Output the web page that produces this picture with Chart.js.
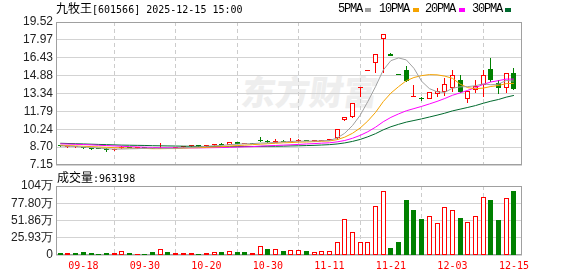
<!DOCTYPE html>
<html>
<head>
<meta charset="utf-8">
<script src="https://cdn.jsdelivr.net/npm/chart.js@4.4.1/dist/chart.umd.min.js"></script>
<style>
  html, body { margin: 0; padding: 0; background: #fff; }
  #wrap { position: relative; width: 578px; height: 276px; overflow: hidden; }
  canvas { position: absolute; left: 0; z-index: 1; }
  #cPrice { top: 0; }
  #cVol { top: 170px; }
  .t { position: absolute; white-space: nowrap; color: #000; z-index: 2; }
  .mono { font-family: "DejaVu Sans Mono", monospace; font-size: 10px; }
  .cjk { font-family: "Noto Sans CJK SC", sans-serif; font-size: 12px; }
  .leg { font-family: "Liberation Mono", monospace; font-size: 12px; letter-spacing: -1.2px; }
  .mk { position: absolute; width: 6px; height: 4px; top: 8px; z-index: 2; }
  #wm { position: absolute; left: 242px; top: 66px; z-index: 0; font-family: "Noto Sans CJK SC", sans-serif;
        font-weight: 900; font-size: 34px; color: #eeeeee; transform: skewX(-8deg); white-space: nowrap; }
</style>
</head>
<body>
<div id="wrap">
  <div id="wm">东方财富</div>
  <canvas id="cPrice" width="578" height="180"></canvas>
  <canvas id="cVol" width="578" height="106"></canvas>

  <div class="t" style="left:56px;top:1px;line-height:14px"><span class="cjk">九牧王</span><span class="mono">[601566] 2025-12-15 15:00</span></div>

  <div class="t leg" style="left:338px;top:2px;line-height:14px">5PMA</div>
  <div class="mk" style="left:365px;background:#a0a0a0"></div>
  <div class="t leg" style="left:379px;top:2px;line-height:14px">10PMA</div>
  <div class="mk" style="left:413px;background:#f5a300"></div>
  <div class="t leg" style="left:425px;top:2px;line-height:14px">20PMA</div>
  <div class="mk" style="left:459px;background:#ff00ff"></div>
  <div class="t leg" style="left:472px;top:2px;line-height:14px">30PMA</div>
  <div class="mk" style="left:505px;background:#006a2e"></div>

  <div class="t" style="left:57px;top:170px;line-height:14px"><span class="cjk">成交量</span><span class="mono">:963198</span></div>
</div>

<script>
// 交易日
const dates = ["09-15","09-16","09-17","09-18","09-19","09-22","09-23","09-24","09-25","09-26",
  "09-29","09-30","10-09","10-10","10-13","10-14","10-15","10-16","10-17","10-20",
  "10-21","10-22","10-23","10-24","10-27","10-28","10-29","10-30","10-31","11-03",
  "11-04","11-05","11-06","11-07","11-10","11-11","11-12","11-13","11-14","11-17",
  "11-18","11-19","11-20","11-21","11-24","11-25","11-26","11-27","11-28","12-01",
  "12-02","12-03","12-04","12-05","12-08","12-09","12-10","12-11","12-12","12-15"];

// K线 (开 高 低 收)
const open  = [8.80,8.70,8.70,8.68,8.60,8.58,8.56,8.44,8.58,8.66, 8.58,8.60,8.60,8.53,8.56,8.58,8.70,8.76,8.78,8.78,
               8.88,8.92,8.91,9.12,8.98,9.00,9.22,9.19,9.08,9.26, 9.18,9.20,9.30,9.20,9.25,9.28,9.46,11.08,11.30,13.78,
               15.25,15.95,18.05,16.72,14.94,15.37,13.06,12.92,12.85,13.28, 13.49,13.78,14.50,12.83,13.64,14.05,15.43,14.27,13.78,15.10];
const high  = [8.82,8.75,8.74,8.70,8.62,8.60,8.58,8.52,8.78,8.70, 8.64,8.62,8.62,9.05,8.64,8.66,8.82,8.82,8.86,8.86,
               8.95,9.02,9.14,9.14,9.04,9.03,9.58,9.31,9.40,9.28, 9.46,9.40,9.32,9.28,9.35,9.38,10.30,11.33,12.50,13.80,
               15.25,16.75,18.52,16.80,14.94,15.74,14.07,13.02,13.48,13.80, 14.65,15.37,14.94,13.52,14.50,15.37,16.38,14.50,15.10,15.55];
const low   = [8.72,8.68,8.68,8.52,8.48,8.50,8.28,8.36,8.56,8.58, 8.54,8.55,8.52,8.50,8.52,8.55,8.66,8.72,8.68,8.74,
               8.80,8.85,8.88,8.96,8.95,8.94,9.18,9.02,9.06,9.15, 9.14,9.12,9.20,9.18,9.22,9.26,9.31,10.98,11.19,13.06,
               15.25,15.13,15.10,16.58,14.94,14.30,13.02,12.72,12.83,13.03, 13.15,13.45,13.35,12.49,13.42,13.06,14.36,13.33,13.40,13.64];
const close = [8.76,8.72,8.71,8.60,8.52,8.54,8.42,8.50,8.66,8.62, 8.60,8.58,8.56,8.58,8.60,8.62,8.80,8.78,8.77,8.82,
               8.94,8.90,9.11,8.98,9.00,8.98,9.20,9.16,9.23,9.17, 9.21,9.26,9.23,9.22,9.32,9.34,10.30,11.33,12.50,13.80,
               15.25,16.75,18.50,16.60,14.94,14.41,13.12,12.88,13.46,13.55, 14.14,14.93,13.49,13.52,13.98,14.94,14.50,13.80,15.08,13.73];

// 均线
const ma5  = [8.80,8.77,8.74,8.70,8.66,8.62,8.56,8.52,8.53,8.55, 8.56,8.59,8.60,8.59,8.58,8.59,8.63,8.68,8.71,8.76,
              8.82,8.84,8.91,8.95,8.99,8.99,9.05,9.06,9.11,9.15, 9.19,9.21,9.22,9.22,9.25,9.27,9.48,9.90,10.56,11.45,
              12.64,13.93,15.36,16.18,16.41,16.24,15.51,14.39,13.76,13.48, 13.43,13.79,13.91,13.93,14.01,14.17,14.09,14.15,14.46,14.41];
const ma10 = [8.86,8.83,8.80,8.77,8.74,8.71,8.68,8.65,8.63,8.61, 8.59,8.58,8.56,8.56,8.57,8.57,8.61,8.64,8.65,8.67,
              8.71,8.74,8.79,8.83,8.87,8.91,8.95,8.99,9.03,9.07, 9.09,9.13,9.14,9.17,9.20,9.23,9.34,9.56,9.89,10.35,
              10.96,11.70,12.63,13.37,13.93,14.44,14.72,14.88,14.97,14.95, 14.84,14.65,14.15,13.84,13.75,13.80,13.94,14.03,14.19,14.21];
const ma20 = [8.98,8.96,8.94,8.92,8.89,8.86,8.83,8.80,8.77,8.74, 8.71,8.69,8.67,8.65,8.64,8.63,8.63,8.63,8.63,8.64,
              8.65,8.66,8.68,8.70,8.72,8.74,8.78,8.81,8.84,8.87, 8.90,8.93,8.97,9.00,9.04,9.07,9.15,9.27,9.46,9.71,
              10.03,10.42,10.89,11.27,11.57,11.84,12.03,12.22,12.43,12.65, 12.90,13.18,13.39,13.61,13.84,14.12,14.33,14.45,14.58,14.58];
const ma30 = [9.03,9.01,8.99,8.97,8.95,8.93,8.91,8.89,8.87,8.86, 8.85,8.84,8.82,8.81,8.80,8.79,8.78,8.77,8.76,8.75,
              8.74,8.74,8.74,8.74,8.75,8.75,8.76,8.77,8.77,8.78, 8.80,8.81,8.83,8.85,8.88,8.91,8.97,9.06,9.19,9.36,
              9.59,9.86,10.19,10.46,10.67,10.86,11.00,11.14,11.30,11.46, 11.63,11.83,11.98,12.13,12.29,12.49,12.67,12.82,13.02,13.17];

// 成交量 (万) 和涨跌方向
const volume = [3,3,3,4.5,3,1.5,3,3,5.5,3, 1.5,1.5,4.5,8.5,4.5,3,3,3,1.5,3,
                4,4.5,5.5,4.5,4.5,3,13,9,8.5,6, 7,7,6,4,5.5,5.5,19,54,34,19,
                19,73.5,96,10.5,19,83,68,54.5,58.5,48, 72,68,56,49.5,58.5,87,83,53,85.5,96.32];
const volDir = ["g","r","g","g","g","g","g","r","r","g", "r","g","g","r","g","r","r","r","g","r",
                "r","g","r","g","g","r","r","g","r","g", "r","r","g","r","r","r","r","r","r","r",
                "r","r","r","g","g","g","g","g","r","r", "r","r","g","r","r","r","g","g","r","g"];

const priceTicks = [7.15, 8.70, 10.24, 11.79, 13.34, 14.88, 16.43, 17.97, 19.52];
const volTicks = [0, 25.93, 51.86, 77.80, 104];
const dateTickIdx = [3, 11, 19, 27, 35, 43, 51, 59];

const RED = "#ff0000", GREEN = "#008000";
const X_MIN = -0.56, X_MAX = 60.05;

const isUp = close.map((c, i) => c > open[i] || (c === open[i] && c >= (i ? close[i - 1] : c)));
const candleColor = isUp.map(u => (u ? RED : GREEN));

/* 图框 */
const frame = {
  id: "frame",
  beforeDatasetsDraw(chart) {
    const { ctx, chartArea: a } = chart;
    ctx.save();
    ctx.strokeStyle = "#a0a0a0";
    ctx.lineWidth = 1;
    ctx.strokeRect(a.left + 0.5, a.top + 0.5, a.right - a.left - 1, a.bottom - a.top - 1);
    ctx.restore();
  },
};

/* 柱子对齐到整像素，避免发虚 */
const snapBars = {
  id: "snapBars",
  afterDatasetsUpdate(chart) {
    chart.getSortedVisibleDatasetMetas().forEach((meta) => {
      if (meta.type !== "bar") return;
      meta.data.forEach((el) => {
        el.x = Math.floor(el.x) + 0.5;
        const top = Math.round(Math.min(el.y, el.base));
        let bot = Math.round(Math.max(el.y, el.base));
        if (bot - top < 1 && Math.abs(el.y - el.base) >= 0.5) bot = top + 1;
        if (el.y <= el.base) { el.y = top; el.base = bot; } else { el.y = bot; el.base = top; }
      });
    });
  },
};

function xScale(showLabels) {
  return {
    type: "linear",
    min: X_MIN,
    max: X_MAX,
    offset: false,
    afterBuildTicks: (s) => { s.ticks = dateTickIdx.map(v => ({ value: v })); },
    afterFit: (s) => { s.height = showLabels ? 21 : 0; },
    grid: { color: "#cccccc", drawTicks: false },
    border: { display: false, dash: [4, 3] },
    ticks: {
      display: showLabels,
      autoSkip: false,
      maxRotation: 0,
      padding: 5,
      color: RED,
      font: { family: "DejaVu Sans Mono", size: 10 },
      callback: (v) => dates[v] || "",
    },
  };
}

function yScale(min, max, ticks, fmt) {
  return {
    type: "linear",
    min, max,
    afterBuildTicks: (s) => { s.ticks = ticks.map(v => ({ value: v })); },
    afterFit: (s) => { s.width = 56; },
    grid: { color: "#d3d3d3", drawTicks: false },
    border: { display: false },
    ticks: {
      autoSkip: false,
      padding: 3,
      color: "#222",
      font: { family: "Liberation Sans", size: 12 },
      callback: fmt,
    },
  };
}

const common = {
  responsive: false,
  animation: false,
  events: [],
  plugins: { legend: { display: false }, tooltip: { enabled: false } },
};

const line = (data, color) => ({
  type: "line",
  data: data.map((y, i) => ({ x: i, y })),
  borderColor: color,
  borderWidth: 1,
  pointRadius: 0,
  tension: 0,
  order: 0,
});

new Chart(document.getElementById("cPrice"), {
  type: "bar",
  data: {
    datasets: [
      line(ma5, "#a0a0a0"),
      line(ma10, "#f5a300"),
      line(ma20, "#ff00ff"),
      line(ma30, "#006a2e"),
      {
        // 实体
        data: open.map((o, i) => ({ x: i, y: [o, close[i]] })),
        backgroundColor: isUp.map(u => (u ? "#ffffff" : GREEN)),
        borderColor: candleColor,
        borderWidth: 1,
        borderSkipped: false,
        inflateAmount: 0,
        barThickness: 5,
        minBarLength: 1,
        grouped: false,
        order: 1,
      },
      {
        // 影线
        data: low.map((l, i) => ({ x: i, y: [l, high[i]] })),
        backgroundColor: candleColor,
        borderWidth: 0,
        borderSkipped: false,
        inflateAmount: 0,
        barThickness: 1,
        grouped: false,
        order: 2,
      },
    ],
  },
  options: {
    ...common,
    layout: { padding: { top: 22, right: 56, bottom: 15, left: 0 } },
    scales: {
      x: xScale(false),
      y: yScale(7.15, 19.52, priceTicks, (v) => Number(v).toFixed(2)),
    },
  },
  plugins: [frame, snapBars],
});

new Chart(document.getElementById("cVol"), {
  type: "bar",
  data: {
    datasets: [
      {
        data: volume.map((v, i) => ({ x: i, y: v })),
        backgroundColor: volDir.map(d => (d === "r" ? "#ffffff" : GREEN)),
        borderColor: volDir.map(d => (d === "r" ? RED : GREEN)),
        borderWidth: 1,
        borderSkipped: false,
        inflateAmount: 0,
        barThickness: 5,
        grouped: false,
      },
    ],
  },
  options: {
    ...common,
    layout: { padding: { top: 16, right: 56, bottom: 0, left: 0 } },
    scales: {
      x: xScale(true),
      y: yScale(0, 104, volTicks, (v) => (v === 0 ? "0" : v === 104 ? "104万" : Number(v).toFixed(2) + "万")),
    },
  },
  plugins: [frame, snapBars],
});
</script>
</body>
</html>
